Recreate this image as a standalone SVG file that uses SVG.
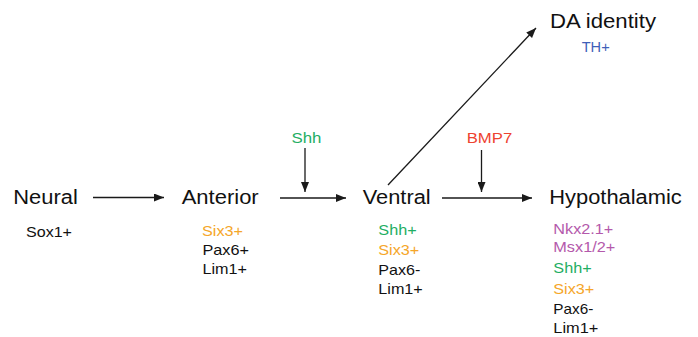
<svg xmlns="http://www.w3.org/2000/svg" width="698" height="337" viewBox="0 0 698 337">
<style>
text{font-family:"Liberation Sans",Arial,sans-serif;}
.big{font-size:20px;fill:#111;}
.sm{font-size:15px;fill:#111;}
.lbl{font-size:15.5px;}
.g{fill:#1fae63;}
.o{fill:#f5a629;}
.r{fill:#ee4331;}
.p{fill:#b459ab;}
.b{fill:#3f5fb8;}
.c line{stroke:#1a1a1a;stroke-width:1.3;fill:none;}
</style>
<defs>
<marker id="ah" viewBox="0 0 10 8" refX="10" refY="4" markerWidth="10" markerHeight="8" markerUnits="userSpaceOnUse" orient="auto">
<path d="M0,0 L10,4 L0,8 Z" fill="#1a1a1a"/>
</marker>
</defs>
<g class="c" id="connectors">
<line x1="93" y1="197.5" x2="164" y2="197.5" marker-end="url(#ah)"/>
<line x1="280" y1="198" x2="346" y2="198" marker-end="url(#ah)"/>
<line x1="442" y1="198" x2="532" y2="198" marker-end="url(#ah)"/>
<line x1="305" y1="148" x2="305" y2="192" marker-end="url(#ah)"/>
<line x1="481.5" y1="150" x2="481.5" y2="192" marker-end="url(#ah)"/>
<line x1="388" y1="185" x2="536" y2="28" marker-end="url(#ah)"/>
</g>
<g id="neural">
<text class="big" x="13.3" y="204" textLength="64.5" lengthAdjust="spacingAndGlyphs">Neural</text>
<text class="sm" x="26" y="237" textLength="46" lengthAdjust="spacingAndGlyphs">Sox1+</text>
</g>
<g id="anterior">
<text class="big" x="181.7" y="204" textLength="77" lengthAdjust="spacingAndGlyphs">Anterior</text>
<text class="sm o" x="202" y="236" textLength="41" lengthAdjust="spacingAndGlyphs">Six3+</text>
<text class="sm" x="202.5" y="255" textLength="46.5" lengthAdjust="spacingAndGlyphs">Pax6+</text>
<text class="sm" x="202.5" y="273.5" textLength="44.5" lengthAdjust="spacingAndGlyphs">Lim1+</text>
</g>
<g id="shh-signal">
<text class="lbl g" x="291.5" y="142.5" textLength="30" lengthAdjust="spacingAndGlyphs">Shh</text>
</g>
<g id="ventral">
<text class="big" x="362.7" y="204" textLength="68" lengthAdjust="spacingAndGlyphs">Ventral</text>
<text class="sm g" x="378.3" y="235" textLength="38.4" lengthAdjust="spacingAndGlyphs">Shh+</text>
<text class="sm o" x="378.3" y="255" textLength="41" lengthAdjust="spacingAndGlyphs">Six3+</text>
<text class="sm" x="378.3" y="275" textLength="42" lengthAdjust="spacingAndGlyphs">Pax6-</text>
<text class="sm" x="378.3" y="293.5" textLength="44.5" lengthAdjust="spacingAndGlyphs">Lim1+</text>
</g>
<g id="bmp7-signal">
<text class="lbl r" x="466.7" y="142.5" textLength="45.5" lengthAdjust="spacingAndGlyphs">BMP7</text>
</g>
<g id="hypothalamic">
<text class="big" x="549.3" y="204" textLength="132.5" lengthAdjust="spacingAndGlyphs">Hypothalamic</text>
<text class="sm p" x="553.3" y="234" textLength="60" lengthAdjust="spacingAndGlyphs">Nkx2.1+</text>
<text class="sm p" x="553.3" y="252" textLength="62" lengthAdjust="spacingAndGlyphs">Msx1/2+</text>
<text class="sm g" x="553.3" y="273" textLength="38.4" lengthAdjust="spacingAndGlyphs">Shh+</text>
<text class="sm o" x="553.3" y="294" textLength="41" lengthAdjust="spacingAndGlyphs">Six3+</text>
<text class="sm" x="553.3" y="313.5" textLength="40" lengthAdjust="spacingAndGlyphs">Pax6-</text>
<text class="sm" x="553.3" y="332.5" textLength="45" lengthAdjust="spacingAndGlyphs">Lim1+</text>
</g>
<g id="da-identity">
<text class="big" x="550" y="27.7" textLength="106" lengthAdjust="spacingAndGlyphs">DA identity</text>
<text class="sm b" x="581.7" y="52.3" textLength="28" lengthAdjust="spacingAndGlyphs">TH+</text>
</g>
</svg>
